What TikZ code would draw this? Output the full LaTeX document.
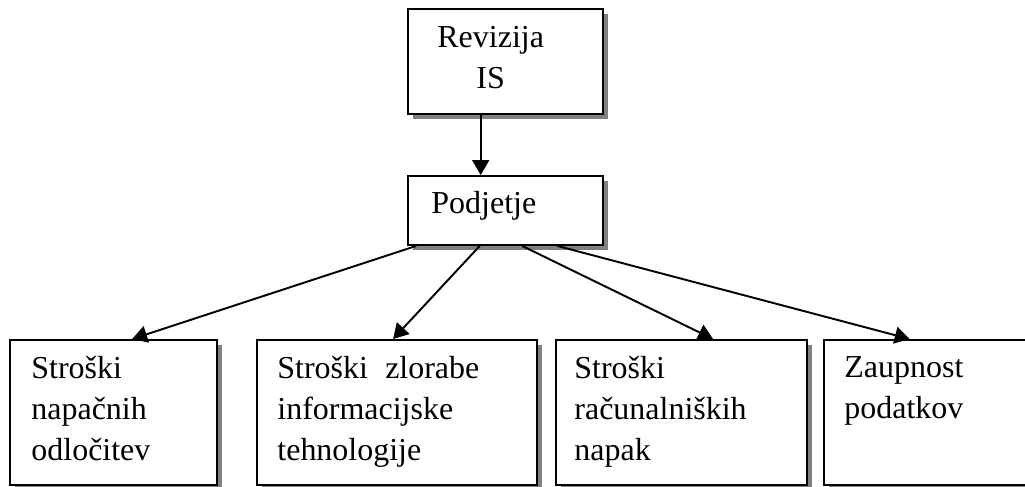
\documentclass[tikz,border=0pt]{standalone}
\usepackage{fontspec}
\setmainfont{Liberation Serif}
\usepackage{tikz}
\usetikzlibrary{arrows.meta,calc,shadows}

\tikzset{
    box/.style={draw, line width=1.1pt, fill=white, inner sep=0pt,
        drop shadow={shadow xshift=0.1cm, shadow yshift=-0.1cm, fill=gray, opacity=1}},
    txt/.style={anchor=north west, inner sep=0pt, align=left,
        font=\fontsize{18.2}{23.3}\selectfont},
    arr/.style={line width=1.1pt, -{Triangle[length=0.3cm,width=0.34cm]}}
}

\begin{document}
\begin{tikzpicture}[x=0.02cm, y=-0.02cm]
    \useasboundingbox (0,0) rectangle (1025,487);
    \clip (0,0) rectangle (1025,487);

    % Boxes
    \node[box, minimum width=3.9cm, minimum height=2.1cm] (rev) at (505.5,61.5) {};
    \node[box, minimum width=3.9cm, minimum height=1.38cm] (pod) at (505.5,210.5) {};
    \node[box, minimum width=4.14cm, minimum height=2.9cm] (c1) at (113.5,412.5) {};
    \node[box, minimum width=5.6cm, minimum height=2.9cm] (c2) at (397,412.5) {};
    \node[box, minimum width=5.02cm, minimum height=2.9cm] (c3) at (681.5,412.5) {};
    \node[box, minimum width=4.32cm, minimum height=2.9cm] (c4) at (932,412.5) {}; % cut at the edge

    % Texts
    \node[txt, align=center] (revtxt) at ($(rev.north west)+(30,18)$) {Revizija\\IS};
    \node[txt] (podtxt) at ($(pod.north west)+(24,16)$) {Podjetje};
    \node[txt] (c1txt) at ($(c1.north west)+(22,17)$) {Stroški\\napačnih\\odločitev};
    \node[txt] (c2txt) at ($(c2.north west)+(21,17)$) {\makebox[4.04cm][s]{Stroški zlorabe}\\informacijske\\tehnologije};
    \node[txt] (c3txt) at ($(c3.north west)+(19,17)$) {Stroški\\računalniških\\napak};
    \node[txt] (c4txt) at ($(c4.north west)+(21,17)$) {Zaupnost\\podatkov};

    % Arrows
    \draw[arr] ($(rev.south west)!0.374!(rev.south east)$) -- ($(pod.north west)!0.374!(pod.north east)$);
    \draw[arr] ($(pod.south west)!0.046!(pod.south east)$) -- ($(c1.north west)!0.589!(c1.north east)$);
    \draw[arr] ($(pod.south west)!0.369!(pod.south east)$) -- ($(c2.north west)!0.486!(c2.north east)$);
    \draw[arr] ($(pod.south west)!0.585!(pod.south east)$) -- ($(c3.north west)!0.625!(c3.north east)$);
    \draw[arr] ($(pod.south west)!0.764!(pod.south east)$) -- ($(c4.north west)!0.398!(c4.north east)$);
\end{tikzpicture}
\end{document}
